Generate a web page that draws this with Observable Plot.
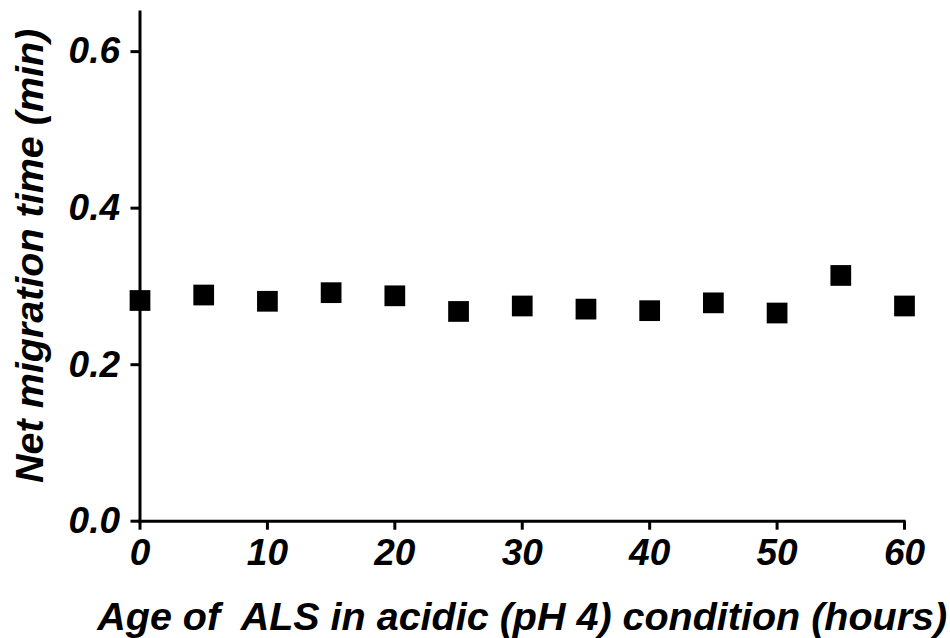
<!DOCTYPE html>
<html>
<head>
<meta charset="utf-8">
<script src="https://cdn.jsdelivr.net/npm/d3@7"></script>
<script src="https://cdn.jsdelivr.net/npm/@observablehq/plot@0.6"></script>
<style>
  html, body { margin: 0; padding: 0; background: #fff; }
  #chart text { white-space: pre; }
</style>
</head>
<body>
<div id="chart"></div>
<script>
const hours = [0, 5, 10, 15, 20, 25, 30, 35, 40, 45, 50, 55, 60];
const migrationTime = [0.282, 0.289, 0.281, 0.292, 0.288, 0.268, 0.275, 0.271, 0.269, 0.279, 0.266, 0.314, 0.275];
const xTicks = [0, 10, 20, 30, 40, 50, 60];
const yTicks = [0.0, 0.2, 0.4, 0.6];
const xDomain = [0, 60];
const yDomain = [0, 0.65];
const xTitle = "Age of  ALS in acidic (pH 4) condition (hours)";
const yTitle = "Net migration time (min)";

const data = hours.map((h, i) => ({hours: h, time: migrationTime[i]}));

const font = {fontWeight: "bold", fontStyle: "italic"};

const chart = Plot.plot({
  width: 950,
  height: 638,
  marginLeft: 139.5,
  marginRight: 46,
  marginTop: 12,
  marginBottom: 117.3,
  x: {domain: xDomain, axis: null},
  y: {domain: yDomain, axis: null},
  style: {fontFamily: "'Liberation Sans', Arial, sans-serif", background: "#fff", color: "#000"},
  marks: [
    Plot.axisX({ticks: xTicks, tickSize: 9, tickPadding: 9, strokeWidth: 3, fontSize: 37, ...font, label: null, tickFormat: d => String(d)}),
    Plot.axisY({ticks: yTicks, tickSize: 9, tickPadding: 11, strokeWidth: 3, fontSize: 37, ...font, label: null, tickFormat: d3.format(".1f")}),
    Plot.ruleX([0], {stroke: "#000", strokeWidth: 3, strokeLinecap: "square"}),
    Plot.ruleY([0], {stroke: "#000", strokeWidth: 3, strokeLinecap: "square"}),
    Plot.dot(data, {x: "hours", y: "time", symbol: "square", r: 11.7, fill: "#000", stroke: "none"}),
    Plot.text([xTitle], {frameAnchor: "bottom", text: d => d, lineAnchor: "bottom", dy: 109, fontSize: 39.5, ...font, fill: "#000"}),
    Plot.text([yTitle], {frameAnchor: "left", text: d => d, rotate: -90, lineAnchor: "bottom", textAnchor: "middle", dx: -97.5, dy: -11, fontSize: 39.5, ...font, fill: "#000"})
  ]
});
document.getElementById("chart").append(chart);
</script>
</body>
</html>
